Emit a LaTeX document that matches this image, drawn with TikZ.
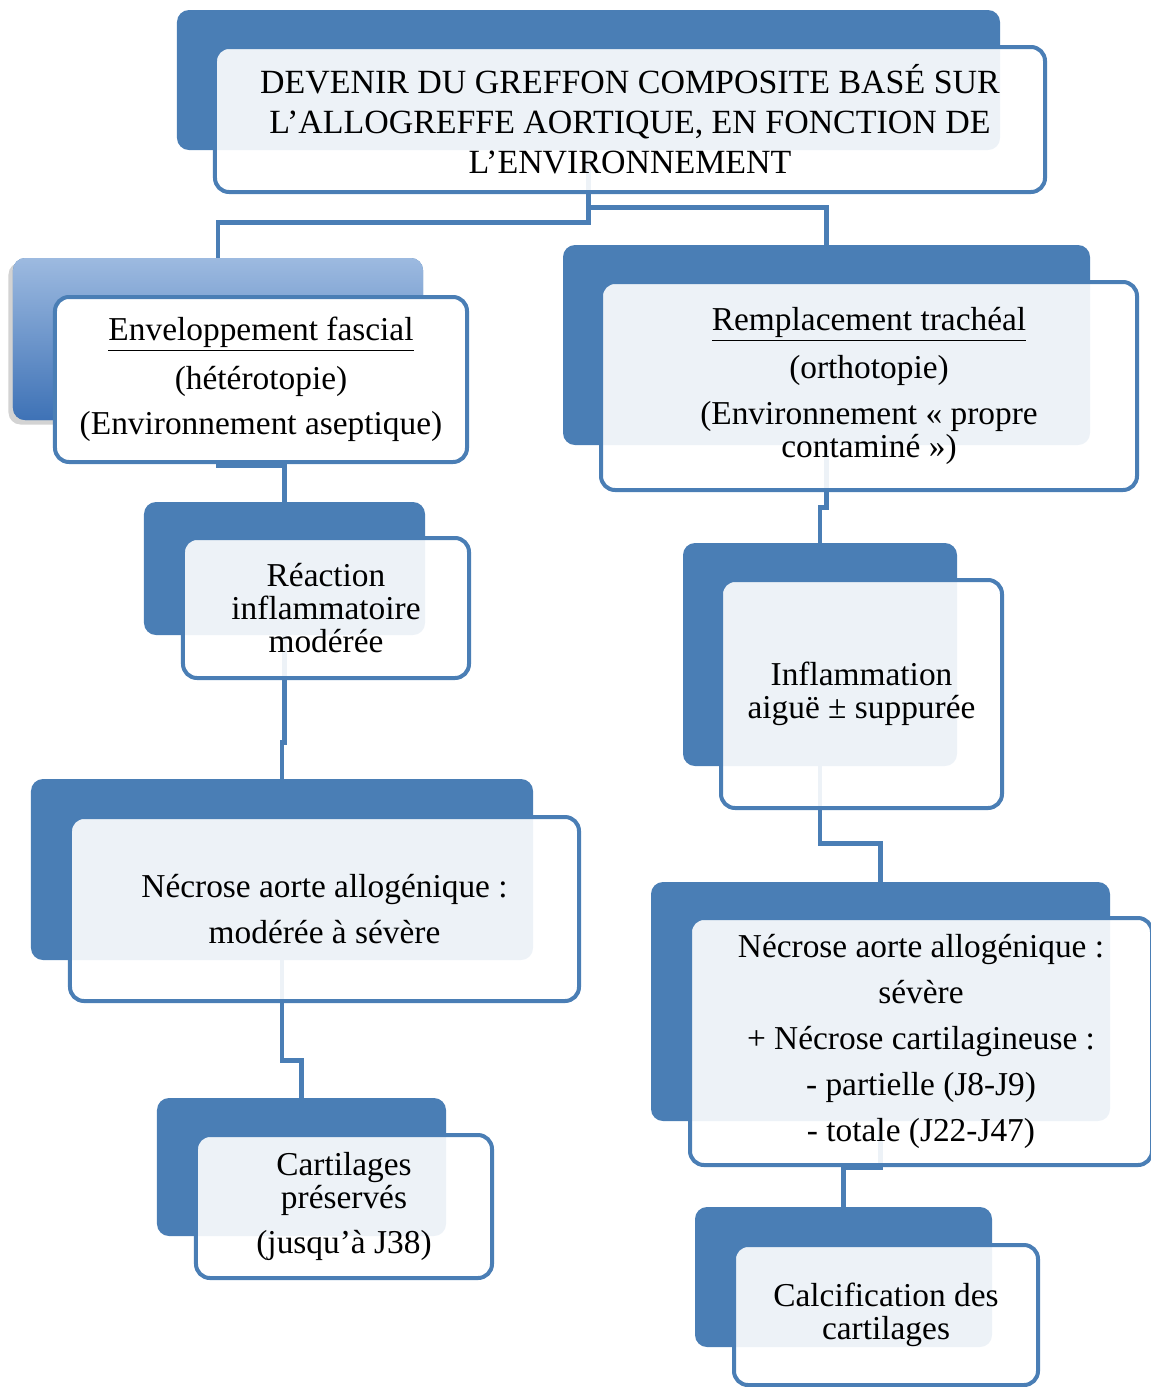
\documentclass[tikz,border=0pt]{standalone}
\usepackage{fontspec}
\setmainfont{Liberation Serif}
\usetikzlibrary{shadows}
\definecolor{boxblue}{HTML}{4A7EB5}
\definecolor{lightblue}{HTML}{9DBAE0}
\definecolor{midblue}{HTML}{3E72B6}
\begin{document}
\begin{tikzpicture}
      [x=0.2mm, y=-0.2mm,
       back node/.style={fill=boxblue, rounded corners=2.4mm, inner sep=0pt},
       picked node/.style={back node, top color=lightblue, bottom color=midblue,
         drop shadow={shadow xshift=-0.9mm, shadow yshift=-0.9mm, opacity=0.35}},
       front node/.style={draw=boxblue, line width=0.8mm, fill=white, fill opacity=0.9,
         text opacity=1, rounded corners=2.8mm, align=center, inner sep=0pt,
         font=\fontsize{19pt}{18.7pt}\selectfont},
       link/.style={draw=boxblue, line width=0.9mm}]
      \useasboundingbox (0,0) rectangle (1150,1387);

      \node[back node, minimum width=164.6mm, minimum height=28mm] (titleb) at (588.5,80) {};
      \node[picked node, minimum width=82mm, minimum height=32.4mm] (left1b) at (218,339) {};
      \node[back node, minimum width=56.2mm, minimum height=26.6mm] (left2b) at (284.5,568.5) {};
      \node[back node, minimum width=100.4mm, minimum height=36.2mm] (left3b) at (282,869.5) {};
      \node[back node, minimum width=57.8mm, minimum height=27.6mm] (left4b) at (301.5,1167) {};
      \node[back node, minimum width=105.4mm, minimum height=40mm] (right1b) at (826.5,345) {};
      \node[back node, minimum width=54.8mm, minimum height=44.6mm] (right2b) at (820,654.5) {};
      \node[back node, minimum width=91.8mm, minimum height=47.8mm] (right3b) at (880.5,1001.5) {};
      \node[back node, minimum width=59.4mm, minimum height=28mm] (right4b) at (843.5,1277) {};

      \draw[link] (titleb.south) -- ++(0,72) -| (left1b.north);
      \draw[link] (titleb.south) -- ++(0,57) -| (right1b.north);
      \draw[link] (left1b.south) -- ++(0,45) -| (left2b.north);
      \draw[link] (left2b.south) -- ++(0,107) -| (left3b.north);
      \draw[link] (left3b.south) -- ++(0,100) -| (left4b.north);
      \draw[link] (right1b.south) -- ++(0,62) -| (right2b.north);
      \draw[link] (right2b.south) -- ++(0,77) -| (right3b.north);
      \draw[link] (right3b.south) -- ++(0,46) -| (right4b.north);

      \node[front node, minimum width=166mm, minimum height=29mm,
            font=\fontsize{19.3pt}{22.7pt}\selectfont] (title) at (630,119.5)
            {DEVENIR DU GREFFON COMPOSITE BASÉ SUR\\L'ALLOGREFFE AORTIQUE, EN FONCTION DE\\L'ENVIRONNEMENT};
      \node[front node, fill opacity=1, minimum width=82.4mm, minimum height=33mm] (left1) at (261,379.5)
            {\underline{Enveloppement fascial}\\[7.4pt](hétérotopie)\\[7.4pt](Environnement aseptique)};
      \node[front node, minimum width=57.2mm, minimum height=28mm] (left2) at (326,608)
            {Réaction\\inflammatoire\\modérée};
      \node[front node, minimum width=101.8mm, minimum height=36.8mm] (left3) at (324.5,909)
            {Nécrose aorte allogénique :\\[7.4pt]modérée à sévère};
      \node[front node, minimum width=59.2mm, minimum height=28.6mm] (left4) at (344,1206.5)
            {Cartilages\\préservés\\[7.4pt](jusqu’à J38)};
      \node[front node, minimum width=107.2mm, minimum height=41.6mm] (right1) at (869,386)
            {\underline{Remplacement trachéal}\\[7.4pt](orthotopie)\\[7.4pt](Environnement «~propre\\contaminé~»)};
      \node[front node, minimum width=56.2mm, minimum height=45.6mm] (right2) at (861.5,694)
            {Inflammation\\aiguë ± suppurée};
      \node[front node, minimum width=92.4mm, minimum height=49.4mm] (right3) at (921,1041.5)
            {Nécrose aorte allogénique :\\[7.4pt]sévère\\[7.4pt]+ Nécrose cartilagineuse :\\[7.4pt]- partielle (J8-J9)\\[7.4pt]- totale (J22-J47)};
      \node[front node, minimum width=60.8mm, minimum height=28mm] (right4) at (886,1315)
            {Calcification des\\cartilages};
\end{tikzpicture}
\end{document}
